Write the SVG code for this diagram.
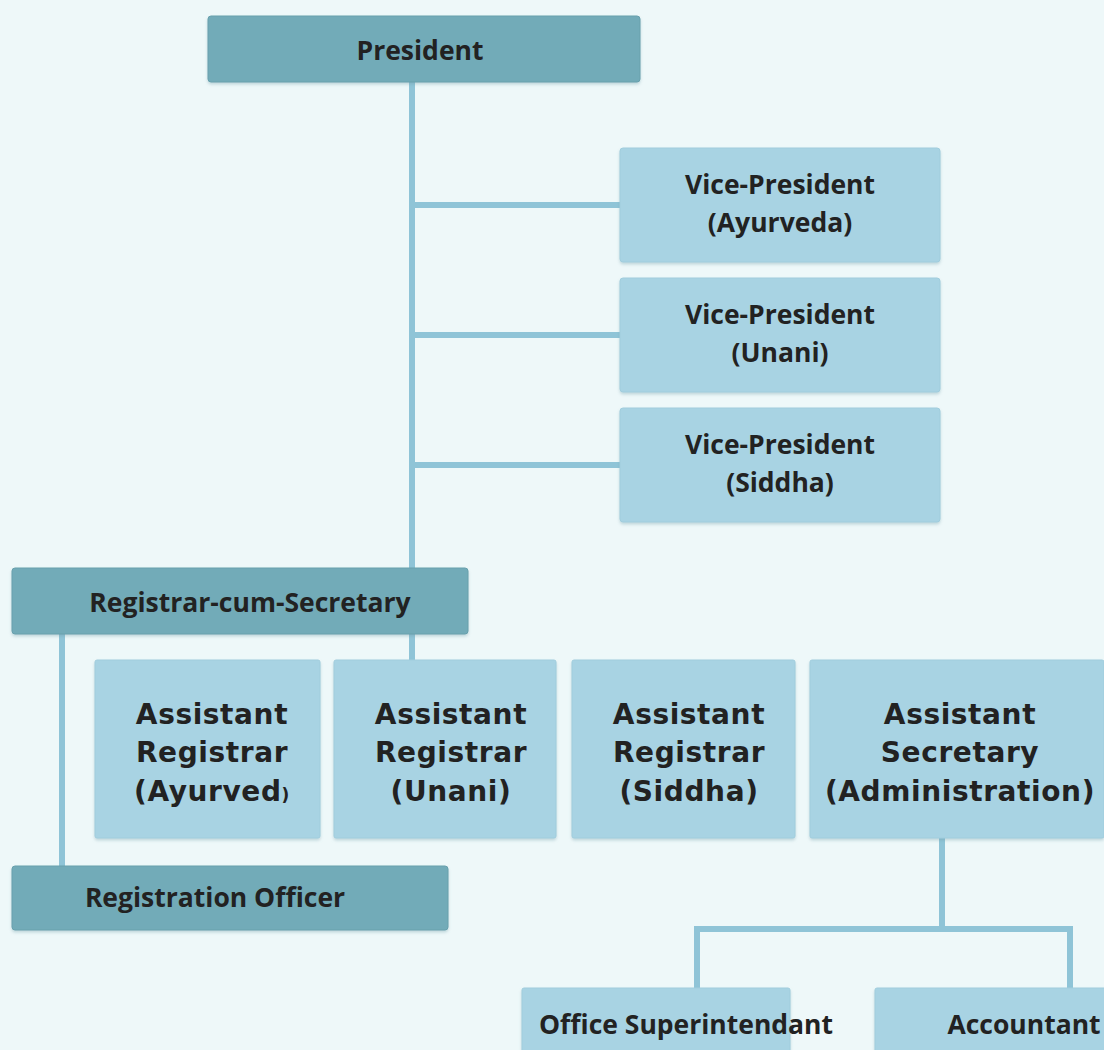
<svg xmlns="http://www.w3.org/2000/svg" width="1104" height="1050" viewBox="0 0 1104 1050">
<defs>
<style>
.bg{fill:#eef8f9}
.dark{fill:#72abb8;stroke:#68a0ad;stroke-width:1}
.light{fill:#a8d3e3;stroke:#a0cddd;stroke-width:1}
.t1{font-family:"Open Sans","Liberation Sans",sans-serif;font-weight:bold;font-size:26.5px;fill:#222;text-anchor:middle}
.t2{font-family:"DejaVu Sans","Liberation Sans",sans-serif;font-weight:bold;font-size:28px;letter-spacing:0.6px;fill:#222;text-anchor:middle}
.ln{stroke:#8fc4d7;stroke-width:6;fill:none}
</style>
<filter id="sh" x="-5%" y="-10%" width="110%" height="125%">
<feDropShadow dx="0" dy="2" stdDeviation="1.5" flood-color="#6a9aa5" flood-opacity="0.35"/>
</filter>
</defs>
<rect class="bg" x="0" y="0" width="1104" height="1050"/>
<g id="connectors">
<path class="ln" d="M412 82 V568"/>
<path class="ln" d="M412 634 V660"/>
<path class="ln" d="M412 205 H620"/>
<path class="ln" d="M412 335 H620"/>
<path class="ln" d="M412 465 H620"/>
<path class="ln" d="M62 634 V866"/>
<path class="ln" d="M942 838 V929 M697 988 V929 H1070 V988"/>
</g>
<g id="president"><rect class="dark" filter="url(#sh)" x="208" y="16" width="432" height="66" rx="3"/><text class="t1" x="420" y="60">President</text></g>
<g id="vp-ayurveda"><rect class="light" filter="url(#sh)" x="620" y="148" width="320" height="114" rx="3"/><text class="t1" x="780" y="194">Vice-President</text><text class="t1" x="780" y="232">(Ayurveda)</text></g>
<g id="vp-unani"><rect class="light" filter="url(#sh)" x="620" y="278" width="320" height="114" rx="3"/><text class="t1" x="780" y="324">Vice-President</text><text class="t1" x="780" y="362">(Unani)</text></g>
<g id="vp-siddha"><rect class="light" filter="url(#sh)" x="620" y="408" width="320" height="114" rx="3"/><text class="t1" x="780" y="454">Vice-President</text><text class="t1" x="780" y="492">(Siddha)</text></g>
<g id="registrar"><rect class="dark" filter="url(#sh)" x="12" y="568" width="456" height="66" rx="3"/><text class="t1" x="250" y="612">Registrar-cum-Secretary</text></g>
<g id="ar-ayurved"><rect class="light" filter="url(#sh)" x="95" y="660" width="225" height="178" rx="2"/><text class="t2" x="212" y="724">Assistant</text><text class="t2" x="212" y="762">Registrar</text><text class="t2" x="212" y="801">(Ayurved<tspan font-size="17">)</tspan></text></g>
<g id="ar-unani"><rect class="light" filter="url(#sh)" x="334" y="660" width="222" height="178" rx="2"/><text class="t2" x="451" y="724">Assistant</text><text class="t2" x="451" y="762">Registrar</text><text class="t2" x="451" y="801">(Unani)</text></g>
<g id="ar-siddha"><rect class="light" filter="url(#sh)" x="572" y="660" width="223" height="178" rx="2"/><text class="t2" x="689" y="724">Assistant</text><text class="t2" x="689" y="762">Registrar</text><text class="t2" x="689" y="801">(Siddha)</text></g>
<g id="as-admin"><rect class="light" filter="url(#sh)" x="810" y="660" width="294" height="178" rx="2"/><text class="t2" x="960" y="724">Assistant</text><text class="t2" x="960" y="762">Secretary</text><text class="t2" x="960" y="801">(Administration)</text></g>
<g id="registration-officer"><rect class="dark" filter="url(#sh)" x="12" y="866" width="436" height="64" rx="3"/><text class="t1" x="215" y="907">Registration Officer</text></g>
<g id="office-superintendant"><rect class="light" filter="url(#sh)" x="522" y="988" width="268" height="70" rx="2"/><text class="t1" x="686" y="1034">Office Superintendant</text></g>
<g id="accountant"><rect class="light" filter="url(#sh)" x="875" y="988" width="240" height="70" rx="2"/><text class="t1" x="1024" y="1034">Accountant</text></g>
</svg>
